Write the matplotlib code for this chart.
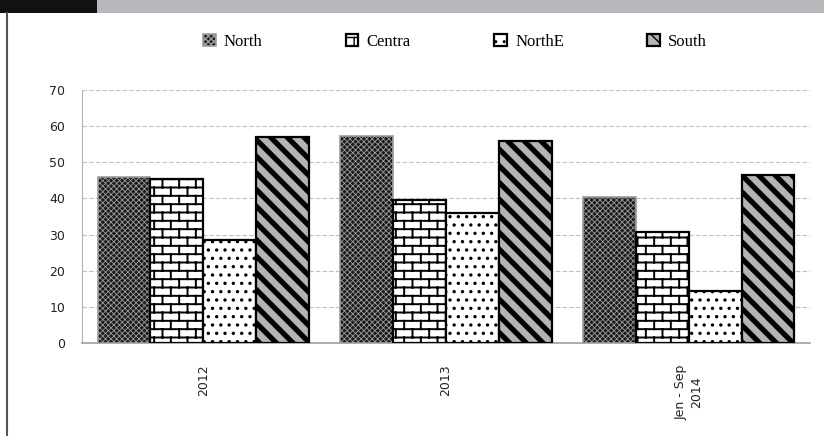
import warnings
warnings.filterwarnings('ignore')
import numpy as np
import matplotlib
matplotlib.use('Agg')
import matplotlib as mpl
import matplotlib.pyplot as plt
import matplotlib.hatch as mhatch
from matplotlib.path import Path
from matplotlib.patches import Rectangle
from matplotlib.lines import Line2D

# ---- data ----
categories = ['2012', '2013', 'Jen - Sep\n2014']
series_names = ['North', 'Centra', 'NorthE', 'South']
north = [45.8, 57.3, 40.4]
centra = [45.4, 39.6, 30.6]
northe = [28.4, 36.0, 14.3]
south = [56.9, 55.9, 46.6]
yticks = [0, 10, 20, 30, 40, 50, 60, 70]


# ---- custom brick hatch ----
class BrickHatch(mhatch.HatchPatternBase):
    def __init__(self, hatch, density):
        self.active = 'B' in hatch
        self.rows = 12
        self.cols = 6
        if self.active:
            self.num_lines = self.rows + (self.rows + 1) * self.cols
        else:
            self.num_lines = 0
        self.num_vertices = self.num_lines * 2

    def set_vertices_and_codes(self, vertices, codes):
        segs = []
        n, m = self.rows, self.cols
        for i in range(n):
            y = (i + 0.5) / n
            segs.append(((0.0, y), (1.0, y)))
        for k in range(-1, n):
            y0 = max(0.0, (k + 0.5) / n)
            y1 = min(1.0, (k + 1.5) / n)
            off = 0.25 if k % 2 == 0 else 0.75
            for j in range(m):
                x = (j + off) / m
                segs.append(((x, y0), (x, y1)))
        arr = np.array(segs, dtype=float).reshape(-1, 2)
        vertices[:] = arr
        codes[0::2] = Path.MOVETO
        codes[1::2] = Path.LINETO


mhatch._hatch_types.append(BrickHatch)

styles = [
    dict(face='#1a1a1a', edge='#9c9c9c', hatch='xxxxxx', hlw=0.6, lw=1.2),
    dict(face='white', edge='black', hatch='B', hlw=1.4, lw=1.6),
    dict(face='white', edge='black', hatch='..', hlw=1.2, lw=1.6),
    dict(face='#b4b4b4', edge='black', hatch='\\\\', hlw=3.8, lw=1.6),
]

fig = plt.figure(figsize=(8.24, 4.36), dpi=100)
ax = fig.add_axes([82 / 824, 1 - 343 / 436, 728 / 824, 253 / 436])

x = np.arange(len(categories))
w = 0.218
values = [north, centra, northe, south]
handles = []
for i, (vals, st, name) in enumerate(zip(values, styles, series_names)):
    with mpl.rc_context({'hatch.linewidth': st['hlw']}):
        bars = ax.bar(x + (i - 1.5) * w, vals, width=w, color=st['face'],
                      edgecolor=st['edge'], hatch=st['hatch'],
                      linewidth=st['lw'], label=name, zorder=3)
    for b in bars:
        if hasattr(b, 'set_hatch_linewidth'):
            b.set_hatch_linewidth(st['hlw'])
        orig = b.draw

        def _draw(renderer, _orig=orig, _lw=st['hlw']):
            with mpl.rc_context({'hatch.linewidth': _lw}):
                _orig(renderer)
        b.draw = _draw
    handles.append(bars)

ax.set_xlim(-0.5, len(categories) - 0.5)
ax.set_ylim(0, 70)
ax.set_yticks(yticks)
ax.set_yticklabels([str(v) for v in yticks])
ax.set_xticks(x)
ax.set_xticklabels(categories, rotation=90, va='top', ha='center',
                   multialignment='center')
ax.tick_params(axis='y', length=0, pad=12, labelsize=9, labelcolor='#222222')
ax.tick_params(axis='x', length=0, pad=15.5, labelsize=9, labelcolor='#222222')
ax.grid(axis='y', color='#c0c0c0', linestyle=(0, (4, 2)), linewidth=0.8, zorder=0)
for s in ['top', 'right']:
    ax.spines[s].set_visible(False)
ax.spines['left'].set_color('#b0b0b0')
ax.spines['bottom'].set_color('#a0a0a0')
ax.spines['bottom'].set_linewidth(1.2)

leg = fig.legend(handles=handles, labels=series_names, ncol=4,
                 loc='center', bbox_to_anchor=(455 / 824, 1 - 42 / 436),
                 frameon=False, prop={'family': 'Liberation Serif', 'size': 12},
                 handlelength=0.75, handleheight=0.75, handletextpad=0.5,
                 columnspacing=5.0)

# decorations: top band and left border
fig.add_artist(Rectangle((0, 1 - 13 / 436), 1, 13 / 436, transform=fig.transFigure,
                         facecolor='#b8b9bc', edgecolor='none'))
fig.add_artist(Rectangle((0, 1 - 13 / 436), 97 / 824, 13 / 436, transform=fig.transFigure,
                         facecolor='#111111', edgecolor='none'))
fig.add_artist(Line2D([7 / 824, 7 / 824], [0, 1 - 13 / 436], transform=fig.transFigure,
                      color='#555555', linewidth=1.5))

fig.savefig('out.png', dpi=100)
